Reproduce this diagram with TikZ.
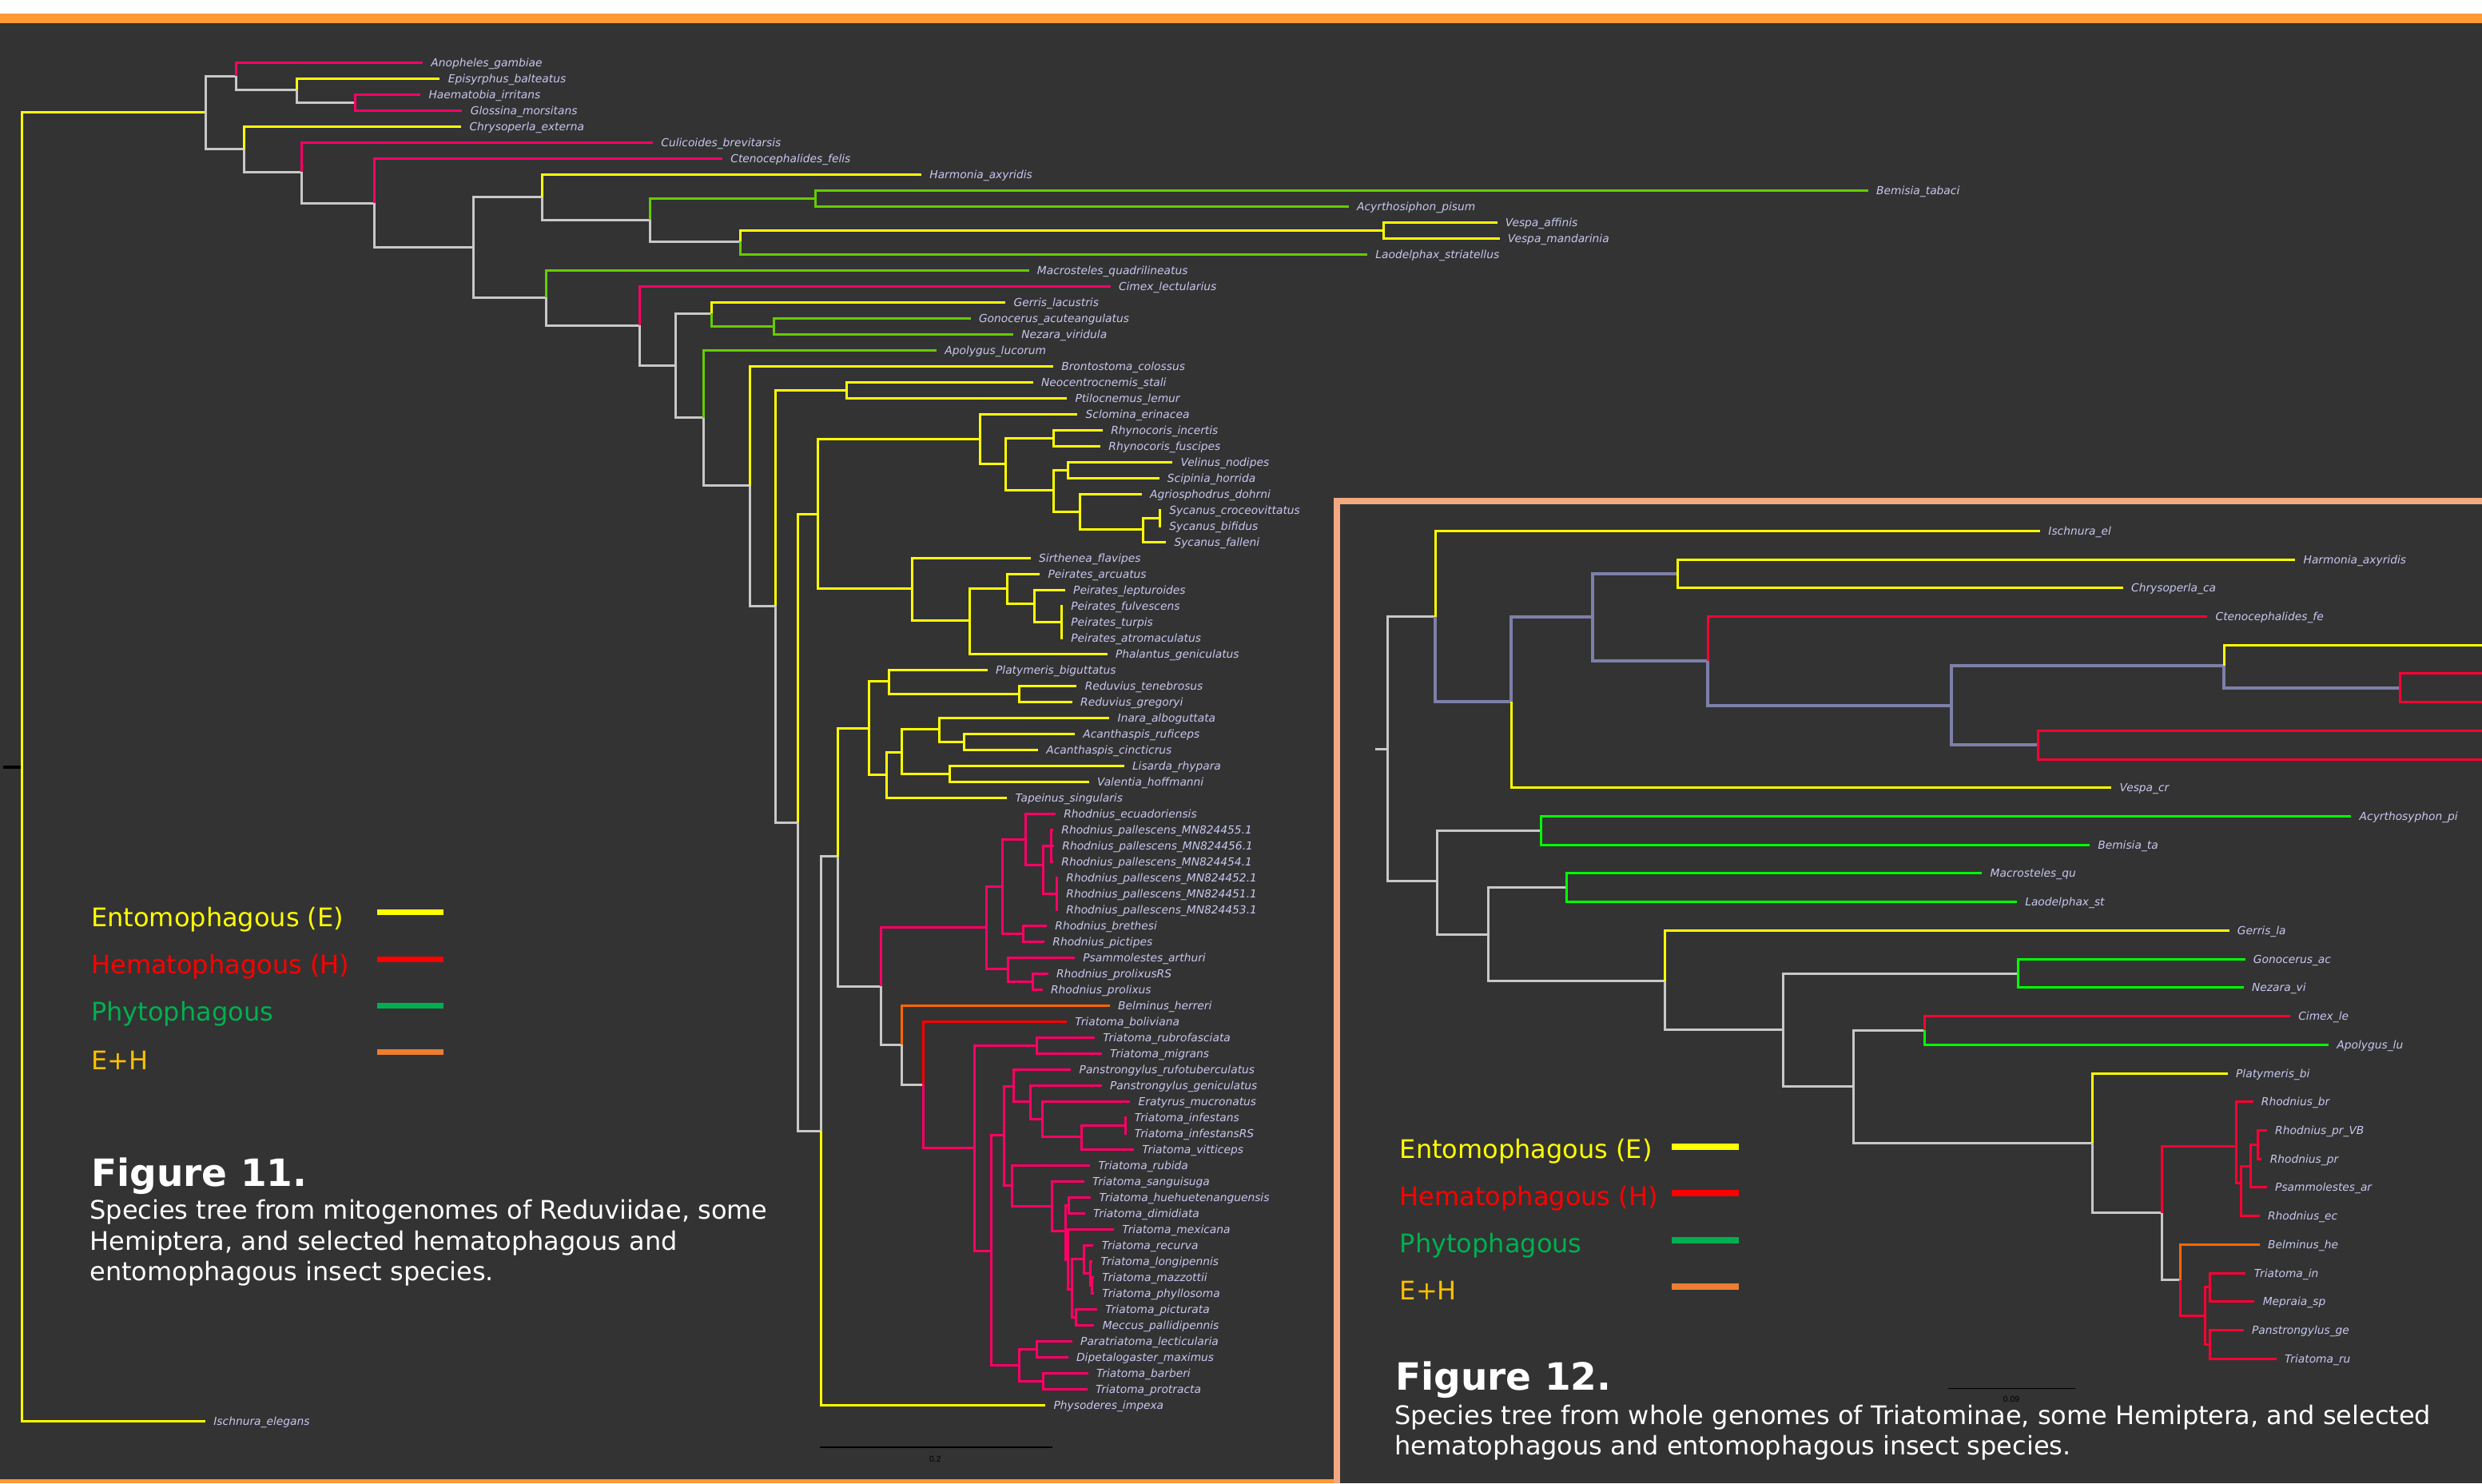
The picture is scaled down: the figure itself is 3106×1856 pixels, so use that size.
\documentclass[tikz,border=0pt]{standalone}
\usepackage{fontspec}
\setmainfont{DejaVu Sans}
\newfontfamily\labfont{DejaVu Sans}
\newfontfamily\sbfont{Liberation Sans}
\definecolor{bg}{RGB}{51,51,51}
\definecolor{obar}{RGB}{255,153,51}
\definecolor{salm}{RGB}{242,168,128}
\definecolor{cgray}{RGB}{200,200,200}
\definecolor{cyel}{RGB}{255,255,0}
\definecolor{cpink}{RGB}{255,0,102}
\definecolor{cgrn}{RGB}{102,204,0}
\definecolor{corg}{RGB}{255,102,0}
\definecolor{cred}{RGB}{255,0,0}
\definecolor{rred}{RGB}{255,0,51}
\definecolor{rgrn}{RGB}{0,255,0}
\definecolor{rpur}{RGB}{125,128,168}
\definecolor{clab}{RGB}{200,200,242}
\definecolor{legE}{RGB}{255,255,0}
\definecolor{legH}{RGB}{255,0,0}
\definecolor{legP}{RGB}{0,176,80}
\definecolor{legEHt}{RGB}{255,192,0}
\definecolor{legEHl}{RGB}{237,125,49}
\newcommand\lf{\fontsize{3.45pt}{4.1pt}\labfont\itshape}
\newcommand\tedge[3]{\draw[#1] (#2) |- (#3);}
\newcommand\tipL[4]{\coordinate (#1) at (#2,#3); \node[lab] (#1l) at (#1) {#4};}
\tikzset{
  brl/.style={line width=0.75pt},
  gy/.style={brl, draw=cgray},
  ye/.style={brl, draw=cyel},
  pk/.style={brl, draw=cpink},
  gn/.style={brl, draw=cgrn},
  og/.style={brl, draw=corg},
  rd/.style={brl, draw=cred},
  rgy/.style={brl, draw=cgray},
  ry/.style={brl, draw=cyel},
  rr/.style={brl, draw=rred},
  rg/.style={brl, draw=rgrn},
  ro/.style={brl, draw=corg},
  rp/.style={line width=1pt, draw=rpur},
  lab/.style={anchor=base west, inner sep=0pt, text=clab, font=\lf, xshift=2.4pt, yshift=-1.26pt},
  legt/.style={anchor=base west, inner sep=0pt, font=\fontsize{8pt}{9.6pt}\selectfont},
  capt/.style={anchor=base west, inner sep=0pt, text=white, font=\fontsize{8pt}{9.6pt}\selectfont},
  figt/.style={anchor=base west, inner sep=0pt, text=white, font=\fontsize{11.75pt}{14pt}\selectfont\bfseries},
  legl/.style={line width=1.75pt},
  sbl/.style={inner sep=0pt, text=black, font=\fontsize{2.6pt}{3pt}\sbfont},
}
\begin{document}
\begin{tikzpicture}[x=0.25pt,y=-0.25pt]
\useasboundingbox (0,0) rectangle (3106,1856);
% backgrounds
\fill[white] (0,0) rectangle (3106,1856);
\fill[bg] (0,29) rectangle (3106,1856);
\fill[obar] (0,17) rectangle (3106,29);
\fill[obar] (0,1851) rectangle (1670,1856);
\fill[salm] (1669,623) rectangle (3106,1856);
\fill[bg] (1677,631) rectangle (3106,1856);

% ---------------- LEFT TREE: tips ----------------
\tipL{L1}{529}{78.7}{Anopheles\_gambiae}
\tipL{L2}{550.4}{98.7}{Episyrphus\_balteatus}
\tipL{L3}{526.1}{118.7}{Haematobia\_irritans}
\tipL{L4}{578.4}{138.7}{Glossina\_morsitans}
\tipL{L5}{577.2}{158.7}{Chrysoperla\_externa}
\tipL{L6}{817}{178.7}{Culicoides\_brevitarsis}
\tipL{L7}{904}{198.7}{Ctenocephalides\_felis}
\tipL{L8}{1153}{218.7}{Harmonia\_axyridis}
\tipL{L9}{2337.8}{238.7}{Bemisia\_tabaci}
\tipL{L10}{1687.8}{258.7}{Acyrthosiphon\_pisum}
\tipL{L11}{1873.5}{278.7}{Vespa\_affinis}
\tipL{L12}{1876.5}{298.7}{Vespa\_mandarinia}
\tipL{L13}{1711}{318.7}{Laodelphax\_striatellus}
\tipL{L14}{1287.5}{338.7}{Macrosteles\_quadrilineatus}
\tipL{L15}{1389.6}{358.7}{Cimex\_lectularius}
\tipL{L16}{1258.2}{378.7}{Gerris\_lacustris}
\tipL{L17}{1214.6}{398.7}{Gonocerus\_acuteangulatus}
\tipL{L18}{1268}{418.7}{Nezara\_viridula}
\tipL{L19}{1172}{438.7}{Apolygus\_lucorum}
\tipL{L20}{1317.9}{458.7}{Brontostoma\_colossus}
\tipL{L21}{1292.6}{478.7}{Neocentrocnemis\_stali}
\tipL{L22}{1335.1}{498.7}{Ptilocnemus\_lemur}
\tipL{L23}{1348.3}{518.7}{Sclomina\_erinacea}
\tipL{L24}{1379.9}{538.7}{Rhynocoris\_incertis}
\tipL{L25}{1377}{558.7}{Rhynocoris\_fuscipes}
\tipL{L26}{1467.2}{578.7}{Velinus\_nodipes}
\tipL{L27}{1450.5}{598.7}{Scipinia\_horrida}
\tipL{L28}{1428.7}{618.7}{Agriosphodrus\_dohrni}
\tipL{L29}{1453}{638.7}{Sycanus\_croceovittatus}
\tipL{L30}{1453}{658.7}{Sycanus\_bifidus}
\tipL{L31}{1459.1}{678.7}{Sycanus\_falleni}
\tipL{L32}{1289.8}{698.7}{Sirthenea\_flavipes}
\tipL{L33}{1301.2}{718.7}{Peirates\_arcuatus}
\tipL{L34}{1332.8}{738.7}{Peirates\_lepturoides}
\tipL{L35}{1330}{758.7}{Peirates\_fulvescens}
\tipL{L36}{1330}{778.7}{Peirates\_turpis}
\tipL{L37}{1330}{798.7}{Peirates\_atromaculatus}
\tipL{L38}{1385.6}{818.7}{Phalantus\_geniculatus}
\tipL{L39}{1235.7}{838.7}{Platymeris\_biguttatus}
\tipL{L40}{1347.4}{858.7}{Reduvius\_tenebrosus}
\tipL{L41}{1341.8}{878.7}{Reduvius\_gregoryi}
\tipL{L42}{1388.3}{898.7}{Inara\_alboguttata}
\tipL{L43}{1344.9}{918.7}{Acanthaspis\_ruficeps}
\tipL{L44}{1299}{938.7}{Acanthaspis\_cincticrus}
\tipL{L45}{1406.6}{958.7}{Lisarda\_rhypara}
\tipL{L46}{1362.8}{978.7}{Valentia\_hoffmanni}
\tipL{L47}{1260.2}{998.7}{Tapeinus\_singularis}
\tipL{L48}{1320.9}{1018.7}{Rhodnius\_ecuadoriensis}
\tipL{L49}{1318}{1038.7}{Rhodnius\_pallescens\_MN824455.1}
\tipL{L50}{1319}{1058.7}{Rhodnius\_pallescens\_MN824456.1}
\tipL{L51}{1318}{1078.7}{Rhodnius\_pallescens\_MN824454.1}
\tipL{L52}{1324}{1098.7}{Rhodnius\_pallescens\_MN824452.1}
\tipL{L53}{1324}{1118.7}{Rhodnius\_pallescens\_MN824451.1}
\tipL{L54}{1324}{1138.7}{Rhodnius\_pallescens\_MN824453.1}
\tipL{L55}{1310}{1158.7}{Rhodnius\_brethesi}
\tipL{L56}{1307}{1178.7}{Rhodnius\_pictipes}
\tipL{L57}{1345}{1198.7}{Psammolestes\_arthuri}
\tipL{L58}{1311.7}{1218.7}{Rhodnius\_prolixusRS}
\tipL{L59}{1304.6}{1238.7}{Rhodnius\_prolixus}
\tipL{L60}{1388.8}{1258.7}{Belminus\_herreri}
\tipL{L61}{1335}{1278.7}{Triatoma\_boliviana}
\tipL{L62}{1369.9}{1298.7}{Triatoma\_rubrofasciata}
\tipL{L63}{1378.6}{1318.7}{Triatoma\_migrans}
\tipL{L64}{1340.3}{1338.7}{Panstrongylus\_rufotuberculatus}
\tipL{L65}{1378.6}{1358.7}{Panstrongylus\_geniculatus}
\tipL{L66}{1414.3}{1378.7}{Eratyrus\_mucronatus}
\tipL{L67}{1409.5}{1398.7}{Triatoma\_infestans}
\tipL{L68}{1409.5}{1418.7}{Triatoma\_infestansRS}
\tipL{L69}{1418.9}{1438.7}{Triatoma\_vitticeps}
\tipL{L70}{1364.3}{1458.7}{Triatoma\_rubida}
\tipL{L71}{1356.6}{1478.7}{Triatoma\_sanguisuga}
\tipL{L72}{1365.3}{1498.7}{Triatoma\_huehuetenanguensis}
\tipL{L73}{1357.7}{1518.7}{Triatoma\_dimidiata}
\tipL{L74}{1394}{1538.7}{Triatoma\_mexicana}
\tipL{L75}{1368.4}{1558.7}{Triatoma\_recurva}
\tipL{L76}{1367.3}{1578.7}{Triatoma\_longipennis}
\tipL{L77}{1369}{1598.7}{Triatoma\_mazzottii}
\tipL{L78}{1369}{1618.7}{Triatoma\_phyllosoma}
\tipL{L79}{1373}{1638.7}{Triatoma\_picturata}
\tipL{L80}{1369.4}{1658.7}{Meccus\_pallidipennis}
\tipL{L81}{1341.8}{1678.7}{Paratriatoma\_lecticularia}
\tipL{L82}{1336.7}{1698.7}{Dipetalogaster\_maximus}
\tipL{L83}{1361.7}{1718.7}{Triatoma\_barberi}
\tipL{L84}{1360.7}{1738.7}{Triatoma\_protracta}
\tipL{L85}{1308.2}{1758.7}{Physoderes\_impexa}
\tipL{L86}{257}{1778.7}{Ischnura\_elegans}

% ---------------- LEFT TREE: internal nodes ----------------
\coordinate (Lstub) at (4,959.7);
\coordinate (Lroot) at (27.8,959.7);
\coordinate (nA) at (257,140.7);
\coordinate (nB) at (295,95);
\coordinate (nD) at (371,112.3);
\coordinate (nE) at (444.5,128.7);
\coordinate (nC) at (305,186.7);
\coordinate (nF) at (377.5,215);
\coordinate (nG) at (468.7,254);
\coordinate (nH) at (592.5,309.3);
\coordinate (nI) at (678.6,246.7);
\coordinate (nK) at (813,275.3);
\coordinate (nL) at (1020.4,248.7);
\coordinate (nM) at (926,302.3);
\coordinate (nN) at (1731.6,288.7);
\coordinate (nJ) at (683.7,372.3);
\coordinate (nO) at (800,407.3);
\coordinate (nP) at (845,457);
\coordinate (nQ) at (890.8,392.3);
\coordinate (nS) at (968.9,408.7);
\coordinate (nR) at (880,522.7);
\coordinate (nT) at (938.4,607.7);
\coordinate (nU) at (970.6,758.3);
\coordinate (nV) at (1059.6,488.7);
\coordinate (nW) at (998.5,1029);
\coordinate (nX) at (1023.4,643.3);
\coordinate (nXa) at (1226,549);
\coordinate (nXc) at (1258.2,580);
\coordinate (nXd) at (1318,548.7);
\coordinate (nXe) at (1318.5,613.3);
\coordinate (nXf) at (1336.8,588.7);
\coordinate (nXg) at (1351.8,640);
\coordinate (nXh) at (1430.4,662.3);
\coordinate (nXi) at (1451.6,648.7);
\coordinate (nXb) at (1141.7,736.7);
\coordinate (nXj) at (1213.4,776.7);
\coordinate (nXk) at (1260.5,736.7);
\coordinate (nXl) at (1294.3,755);
\coordinate (nXm) at (1328.2,778.7);
\coordinate (nY) at (1027.6,1415.4);
\coordinate (nZ) at (1048,1071.7);
\coordinate (nAA) at (1087.2,911);
\coordinate (nCC) at (1112.2,852.3);
\coordinate (nEE) at (1275,868.7);
\coordinate (nDD) at (1109.2,969.3);
\coordinate (nFF) at (1128,941.3);
\coordinate (nGG) at (1175,912.7);
\coordinate (nII) at (1206,928.7);
\coordinate (nHH) at (1188.3,968.7);
\coordinate (nBB) at (1102,1234);
\coordinate (nJJ) at (1234.2,1160);
\coordinate (nLL) at (1254.6,1109.3);
\coordinate (nNN) at (1283.2,1050);
\coordinate (nPP) at (1305.6,1082.3);
\coordinate (nQQ) at (1315.8,1058.7);
\coordinate (nRR) at (1322.4,1118.7);
\coordinate (nOO) at (1280,1168.7);
\coordinate (nMM) at (1261.2,1212.7);
\coordinate (nSS) at (1292.9,1228.7);
\coordinate (nKK) at (1128,1307.2);
\coordinate (nTT) at (1155.1,1357);
\coordinate (nUU) at (1219.9,1436.7);
\coordinate (nVV) at (1297.4,1308.7);
\coordinate (nWW) at (1240.8,1565);
\coordinate (nXX) at (1256.1,1420);
\coordinate (nZZ) at (1268.4,1359);
\coordinate (nAC) at (1289.3,1378.3);
\coordinate (nAD) at (1304.6,1400);
\coordinate (nAE) at (1353,1422.8);
\coordinate (nAF) at (1408.2,1408.7);
\coordinate (nAB) at (1266.8,1483.9);
\coordinate (nAG) at (1316.8,1509);
\coordinate (nAH) at (1333.7,1540);
\coordinate (nAI) at (1337.8,1508.7);
\coordinate (nAP) at (1336.2,1576);
\coordinate (nAQ) at (1341.8,1613);
\coordinate (nAL) at (1356.6,1575.9);
\coordinate (nAN) at (1364.3,1593.3);
\coordinate (nAO) at (1366.3,1608.7);
\coordinate (nAM) at (1346.9,1648.7);
\coordinate (nYY) at (1275,1708.8);
\coordinate (nAR) at (1297.4,1688.7);
\coordinate (nAS) at (1305.6,1728.7);

% ---------------- LEFT TREE: branches ----------------
\draw[line width=1pt, black] (Lstub) -- (Lroot);
\tedge{ye}{Lroot}{nA}
\tedge{ye}{Lroot}{L86}
\tedge{gy}{nA}{nB}
\tedge{gy}{nA}{nC}
\tedge{pk}{nB}{L1}
\tedge{gy}{nB}{nD}
\tedge{ye}{nD}{L2}
\tedge{gy}{nD}{nE}
\tedge{pk}{nE}{L3}
\tedge{pk}{nE}{L4}
\tedge{ye}{nC}{L5}
\tedge{gy}{nC}{nF}
\tedge{pk}{nF}{L6}
\tedge{gy}{nF}{nG}
\tedge{pk}{nG}{L7}
\tedge{gy}{nG}{nH}
\tedge{gy}{nH}{nI}
\tedge{gy}{nH}{nJ}
\tedge{ye}{nI}{L8}
\tedge{gy}{nI}{nK}
\tedge{gn}{nK}{nL}
\tedge{gy}{nK}{nM}
\tedge{gn}{nL}{L9}
\tedge{gn}{nL}{L10}
\tedge{ye}{nM}{nN}
\tedge{gn}{nM}{L13}
\tedge{ye}{nN}{L11}
\tedge{ye}{nN}{L12}
\tedge{gn}{nJ}{L14}
\tedge{gy}{nJ}{nO}
\tedge{pk}{nO}{L15}
\tedge{gy}{nO}{nP}
\tedge{gy}{nP}{nQ}
\tedge{gy}{nP}{nR}
\tedge{ye}{nQ}{L16}
\tedge{gn}{nQ}{nS}
\tedge{gn}{nS}{L17}
\tedge{gn}{nS}{L18}
\tedge{gn}{nR}{L19}
\tedge{gy}{nR}{nT}
\tedge{ye}{nT}{L20}
\tedge{gy}{nT}{nU}
\tedge{ye}{nU}{nV}
\tedge{gy}{nU}{nW}
\tedge{ye}{nV}{L21}
\tedge{ye}{nV}{L22}
\tedge{ye}{nW}{nX}
\tedge{gy}{nW}{nY}
\tedge{ye}{nX}{nXa}
\tedge{ye}{nX}{nXb}
\tedge{ye}{nXa}{L23}
\tedge{ye}{nXa}{nXc}
\tedge{ye}{nXc}{nXd}
\tedge{ye}{nXc}{nXe}
\tedge{ye}{nXd}{L24}
\tedge{ye}{nXd}{L25}
\tedge{ye}{nXe}{nXf}
\tedge{ye}{nXe}{nXg}
\tedge{ye}{nXf}{L26}
\tedge{ye}{nXf}{L27}
\tedge{ye}{nXg}{L28}
\tedge{ye}{nXg}{nXh}
\tedge{ye}{nXh}{nXi}
\tedge{ye}{nXh}{L31}
\tedge{ye}{nXi}{L29}
\tedge{ye}{nXi}{L30}
\tedge{ye}{nXb}{L32}
\tedge{ye}{nXb}{nXj}
\tedge{ye}{nXj}{nXk}
\tedge{ye}{nXj}{L38}
\tedge{ye}{nXk}{L33}
\tedge{ye}{nXk}{nXl}
\tedge{ye}{nXl}{L34}
\tedge{ye}{nXl}{nXm}
\tedge{ye}{nXm}{L35}
\tedge{ye}{nXm}{L36}
\tedge{ye}{nXm}{L37}
\tedge{gy}{nY}{nZ}
\tedge{ye}{nY}{L85}
\tedge{ye}{nZ}{nAA}
\tedge{gy}{nZ}{nBB}
\tedge{ye}{nAA}{nCC}
\tedge{ye}{nAA}{nDD}
\tedge{ye}{nCC}{L39}
\tedge{ye}{nCC}{nEE}
\tedge{ye}{nEE}{L40}
\tedge{ye}{nEE}{L41}
\tedge{ye}{nDD}{nFF}
\tedge{ye}{nDD}{L47}
\tedge{ye}{nFF}{nGG}
\tedge{ye}{nFF}{nHH}
\tedge{ye}{nGG}{L42}
\tedge{ye}{nGG}{nII}
\tedge{ye}{nII}{L43}
\tedge{ye}{nII}{L44}
\tedge{ye}{nHH}{L45}
\tedge{ye}{nHH}{L46}
\tedge{pk}{nBB}{nJJ}
\tedge{gy}{nBB}{nKK}
\tedge{pk}{nJJ}{nLL}
\tedge{pk}{nJJ}{nMM}
\tedge{pk}{nLL}{nNN}
\tedge{pk}{nLL}{nOO}
\tedge{pk}{nNN}{L48}
\tedge{pk}{nNN}{nPP}
\tedge{pk}{nPP}{nQQ}
\tedge{pk}{nPP}{nRR}
\tedge{pk}{nQQ}{L49}
\tedge{pk}{nQQ}{L50}
\tedge{pk}{nQQ}{L51}
\tedge{pk}{nRR}{L52}
\tedge{pk}{nRR}{L53}
\tedge{pk}{nRR}{L54}
\tedge{pk}{nOO}{L55}
\tedge{pk}{nOO}{L56}
\tedge{pk}{nMM}{L57}
\tedge{pk}{nMM}{nSS}
\tedge{pk}{nSS}{L58}
\tedge{pk}{nSS}{L59}
\tedge{og}{nKK}{L60}
\tedge{gy}{nKK}{nTT}
\tedge{rd}{nTT}{L61}
\tedge{pk}{nTT}{nUU}
\tedge{pk}{nUU}{nVV}
\tedge{pk}{nUU}{nWW}
\tedge{pk}{nVV}{L62}
\tedge{pk}{nVV}{L63}
\tedge{pk}{nWW}{nXX}
\tedge{pk}{nWW}{nYY}
\tedge{pk}{nXX}{nZZ}
\tedge{pk}{nXX}{nAB}
\tedge{pk}{nZZ}{L64}
\tedge{pk}{nZZ}{nAC}
\tedge{pk}{nAC}{L65}
\tedge{pk}{nAC}{nAD}
\tedge{pk}{nAD}{L66}
\tedge{pk}{nAD}{nAE}
\tedge{pk}{nAE}{nAF}
\tedge{pk}{nAE}{L69}
\tedge{pk}{nAF}{L67}
\tedge{pk}{nAF}{L68}
\tedge{pk}{nAB}{L70}
\tedge{pk}{nAB}{nAG}
\tedge{pk}{nAG}{L71}
\tedge{pk}{nAG}{nAH}
\tedge{pk}{nAH}{nAI}
\tedge{pk}{nAH}{nAP}
\tedge{pk}{nAI}{L72}
\tedge{pk}{nAI}{L73}
\tedge{pk}{nAP}{L74}
\tedge{pk}{nAP}{nAQ}
\tedge{pk}{nAQ}{nAL}
\tedge{pk}{nAQ}{nAM}
\tedge{pk}{nAL}{L75}
\tedge{pk}{nAL}{nAN}
\tedge{pk}{nAN}{L76}
\tedge{pk}{nAN}{nAO}
\tedge{pk}{nAO}{L77}
\tedge{pk}{nAO}{L78}
\tedge{pk}{nAM}{L79}
\tedge{pk}{nAM}{L80}
\tedge{pk}{nYY}{nAR}
\tedge{pk}{nYY}{nAS}
\tedge{pk}{nAR}{L81}
\tedge{pk}{nAR}{L82}
\tedge{pk}{nAS}{L83}
\tedge{pk}{nAS}{L84}

% scale bar left
\coordinate (sbL1) at (1026,1811);
\coordinate (sbL2) at (1316.8,1811);
\draw[black, line width=0.35pt] (sbL1) -- (sbL2);
\node[sbl] (sbLt) at (1170.4,1826) {0.2};

% ---------------- RIGHT TREE: tips ----------------
\tipL{R1}{2553}{664.3}{Ischnura\_el}
\tipL{R2}{2872.2}{700.0}{Harmonia\_axyridis}
\tipL{R3}{2656.7}{735.7}{Chrysoperla\_ca}
\tipL{R4}{2762.2}{771.5}{Ctenocephalides\_fe}
\coordinate (R5) at (3112,807.2);
\coordinate (R6) at (3112,842.9);
\coordinate (R7) at (3112,878.6);
\coordinate (R8) at (3112,914.3);
\coordinate (R9) at (3112,950.1);
\tipL{R10}{2642.2}{985.8}{Vespa\_cr}
\tipL{R11}{2942.3}{1021.5}{Acyrthosyphon\_pi}
\tipL{R12}{2614.9}{1057.2}{Bemisia\_ta}
\tipL{R13}{2480.3}{1092.9}{Macrosteles\_qu}
\tipL{R14}{2523.9}{1128.7}{Laodelphax\_st}
\tipL{R15}{2789.5}{1164.4}{Gerris\_la}
\tipL{R16}{2809.5}{1200.1}{Gonocerus\_ac}
\tipL{R17}{2807.7}{1235.8}{Nezara\_vi}
\tipL{R18}{2865.9}{1271.5}{Cimex\_le}
\tipL{R19}{2914}{1307.3}{Apolygus\_lu}
\tipL{R20}{2787.7}{1343.0}{Platymeris\_bi}
\tipL{R21}{2819.5}{1378.7}{Rhodnius\_br}
\tipL{R22}{2836.8}{1414.4}{Rhodnius\_pr\_VB}
\tipL{R23}{2830.4}{1450.1}{Rhodnius\_pr}
\tipL{R24}{2836.8}{1485.9}{Psammolestes\_ar}
\tipL{R25}{2827.7}{1521.6}{Rhodnius\_ec}
\tipL{R26}{2827.7}{1557.3}{Belminus\_he}
\tipL{R27}{2810.4}{1593.0}{Triatoma\_in}
\tipL{R28}{2821.4}{1628.7}{Mepraia\_sp}
\tipL{R29}{2807.7}{1664.5}{Panstrongylus\_ge}
\tipL{R30}{2848.6}{1700.2}{Triatoma\_ru}

% ---------------- RIGHT TREE: internal nodes ----------------
\coordinate (Rstub) at (1721,937);
\coordinate (Rroot) at (1736.4,937);
\coordinate (RA) at (1796.4,771.5);
\coordinate (RC) at (1891,877.7);
\coordinate (RD) at (1992.8,772.3);
\coordinate (RE) at (2099.2,717.9);
\coordinate (RF) at (2137.4,826.7);
\coordinate (RG) at (2442.1,883.3);
\coordinate (RH) at (2783.1,832.7);
\coordinate (RJ) at (3003.2,860.7);
\coordinate (RI) at (2550.3,932.2);
\coordinate (RB) at (1798.2,1102.7);
\coordinate (RK) at (1928.3,1039.3);
\coordinate (RL) at (1862.8,1169.6);
\coordinate (RM) at (1960.1,1110.8);
\coordinate (RN) at (2083.8,1227.6);
\coordinate (RO) at (2231.1,1288.2);
\coordinate (RP) at (2525.8,1218);
\coordinate (RQ) at (2319.3,1359.3);
\coordinate (RR) at (2408.4,1289.4);
\coordinate (RS) at (2618.5,1430.4);
\coordinate (RT) at (2705.8,1517.9);
\coordinate (RU) at (2798.6,1434.1);
\coordinate (RW) at (2804,1480);
\coordinate (RX) at (2816.8,1459);
\coordinate (RY) at (2825.9,1432.3);
\coordinate (RV) at (2728.6,1601.7);
\coordinate (RZ) at (2759.5,1646.4);
\coordinate (SA) at (2765,1610.9);
\coordinate (SB) at (2765,1682.3);

% ---------------- RIGHT TREE: branches ----------------
\draw[rgy] (Rstub) -- (Rroot);
\tedge{rgy}{Rroot}{RA}
\tedge{rgy}{Rroot}{RB}
\tedge{ry}{RA}{R1}
\tedge{rp}{RA}{RC}
\tedge{rp}{RC}{RD}
\tedge{ry}{RC}{R10}
\tedge{rp}{RD}{RE}
\tedge{rp}{RD}{RF}
\tedge{ry}{RE}{R2}
\tedge{ry}{RE}{R3}
\tedge{rr}{RF}{R4}
\tedge{rp}{RF}{RG}
\tedge{rp}{RG}{RH}
\tedge{rp}{RG}{RI}
\tedge{ry}{RH}{R5}
\tedge{rp}{RH}{RJ}
\tedge{rr}{RJ}{R6}
\tedge{rr}{RJ}{R7}
\tedge{rr}{RI}{R8}
\tedge{rr}{RI}{R9}
\tedge{rgy}{RB}{RK}
\tedge{rgy}{RB}{RL}
\tedge{rg}{RK}{R11}
\tedge{rg}{RK}{R12}
\tedge{rgy}{RL}{RM}
\tedge{rgy}{RL}{RN}
\tedge{rg}{RM}{R13}
\tedge{rg}{RM}{R14}
\tedge{ry}{RN}{R15}
\tedge{rgy}{RN}{RO}
\tedge{rgy}{RO}{RP}
\tedge{rgy}{RO}{RQ}
\tedge{rg}{RP}{R16}
\tedge{rg}{RP}{R17}
\tedge{rgy}{RQ}{RR}
\tedge{rgy}{RQ}{RS}
\tedge{rr}{RR}{R18}
\tedge{rg}{RR}{R19}
\tedge{ry}{RS}{R20}
\tedge{rgy}{RS}{RT}
\tedge{rr}{RT}{RU}
\tedge{rgy}{RT}{RV}
\tedge{rr}{RU}{R21}
\tedge{rr}{RU}{RW}
\tedge{rr}{RW}{RX}
\tedge{rr}{RW}{R25}
\tedge{rr}{RX}{RY}
\tedge{rr}{RX}{R24}
\tedge{rr}{RY}{R22}
\tedge{rr}{RY}{R23}
\tedge{ro}{RV}{R26}
\tedge{rr}{RV}{RZ}
\tedge{rr}{RZ}{SA}
\tedge{rr}{RZ}{SB}
\tedge{rr}{SA}{R27}
\tedge{rr}{SA}{R28}
\tedge{rr}{SB}{R29}
\tedge{rr}{SB}{R30}

% scale bar right
\coordinate (sbR1) at (2437.5,1737.6);
\coordinate (sbR2) at (2596.7,1737.6);
\draw[black, line width=0.35pt] (sbR1) -- (sbR2);
\node[sbl] (sbRt) at (2517,1751) {0.09};

% ---------------- LEGENDS ----------------
\node[legt, text=legE] (lgE1) at (113.5,1159) {Entomophagous (E)};
\node[legt, text=legH] (lgH1) at (113.5,1218.6) {Hematophagous (H)};
\node[legt, text=legP] (lgP1) at (113.5,1277.8) {Phytophagous};
\node[legt, text=legEHt] (lgX1) at (113.5,1338) {E+H};
\coordinate (lE1a) at (472,1141.5); \coordinate (lE1b) at (555,1141.5);
\coordinate (lH1a) at (472,1200);   \coordinate (lH1b) at (555,1200);
\coordinate (lP1a) at (472,1258.2); \coordinate (lP1b) at (555,1258.2);
\coordinate (lX1a) at (472,1316.3); \coordinate (lX1b) at (555,1316.3);
\draw[legl, legE] (lE1a) -- (lE1b);
\draw[legl, legH] (lH1a) -- (lH1b);
\draw[legl, legP] (lP1a) -- (lP1b);
\draw[legl, legEHl] (lX1a) -- (lX1b);

\node[legt, text=legE] (lgE2) at (1751,1449) {Entomophagous (E)};
\node[legt, text=legH] (lgH2) at (1751,1508.4) {Hematophagous (H)};
\node[legt, text=legP] (lgP2) at (1751,1567.4) {Phytophagous};
\node[legt, text=legEHt] (lgX2) at (1751,1626.4) {E+H};
\coordinate (lE2a) at (2092,1434.6); \coordinate (lE2b) at (2175.6,1434.6);
\coordinate (lH2a) at (2092,1493.1); \coordinate (lH2b) at (2175.6,1493.1);
\coordinate (lP2a) at (2092,1551.6); \coordinate (lP2b) at (2175.6,1551.6);
\coordinate (lX2a) at (2092,1610);   \coordinate (lX2b) at (2175.6,1610);
\draw[legl, line width=2pt, legE] (lE2a) -- (lE2b);
\draw[legl, line width=2pt, legH] (lH2a) -- (lH2b);
\draw[legl, line width=2pt, legP] (lP2a) -- (lP2b);
\draw[legl, line width=2pt, legEHl] (lX2a) -- (lX2b);

% ---------------- CAPTIONS ----------------
\node[figt] (fig11) at (113.5,1484.4) {Figure 11.};
\node[capt] (c11a) at (111.6,1525.6) {Species tree from mitogenomes of Reduviidae, some};
\node[capt] (c11b) at (111.6,1564.1) {Hemiptera, and selected hematophagous and};
\node[capt] (c11c) at (111.6,1602.7) {entomophagous insect species.};
\node[figt] (fig12) at (1745.5,1739.7) {Figure 12.};
\node[capt] (c12a) at (1744.7,1782.2) {Species tree from whole genomes of Triatominae, some Hemiptera, and selected};
\node[capt] (c12b) at (1744.7,1820.3) {hematophagous and entomophagous insect species.};
\end{tikzpicture}
\end{document}
